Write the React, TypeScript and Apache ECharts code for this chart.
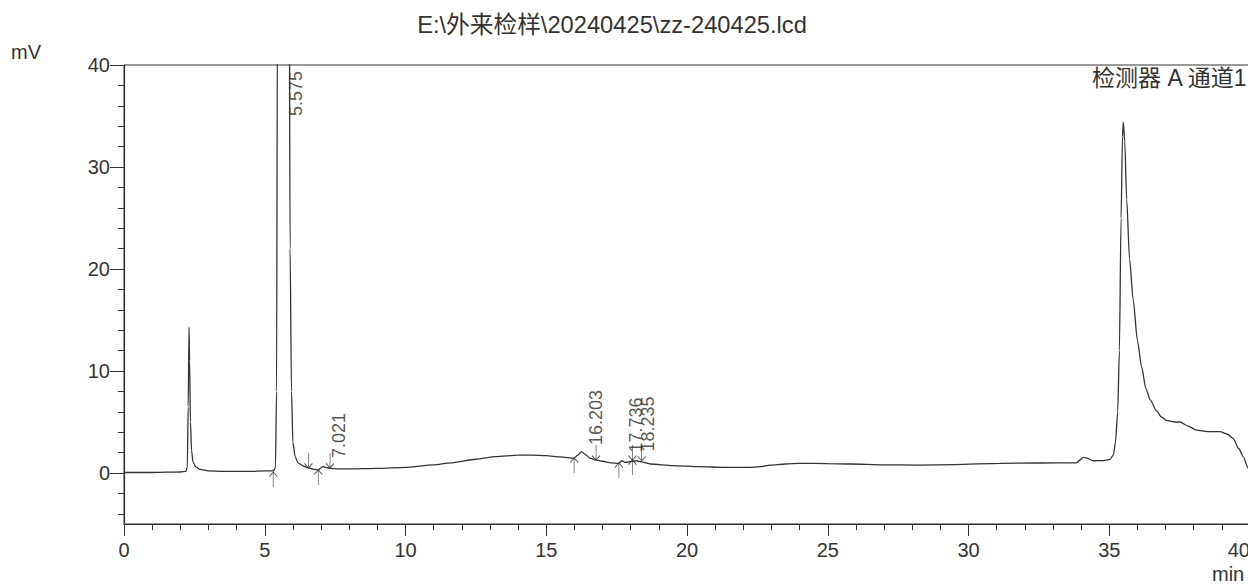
import React, { useEffect, useRef } from "react";
import * as echarts from "echarts";

// Chromatogram trace (time in min, signal in mV)
const times = [
  0.0, 0.5, 1.0, 1.5, 2.0, 2.2, 2.25, 2.28, 2.31, 2.33, 2.36, 2.4, 2.45, 2.55, 2.7, 3.0, 3.5, 4.0, 4.5, 5.0,
  5.3, 5.38, 5.42, 5.45, 5.5, 5.575, 5.7, 5.8, 5.87, 5.9, 5.95, 6.0, 6.08, 6.18, 6.35, 6.55, 6.75, 6.9, 7.0, 7.07,
  7.15, 7.32, 7.6, 8.0, 9.0, 10.0, 11.0, 11.6, 12.5, 13.2, 14.0, 14.5, 15.0, 15.5, 15.99, 16.1, 16.25, 16.4, 16.55, 16.77,
  17.0, 17.3, 17.58, 17.68, 17.8, 18.06, 18.2, 18.39, 18.7, 19.5, 20.46, 21.3, 22.2, 22.6, 22.95, 23.5, 24.0, 25.0, 25.8, 27.0,
  28.2, 29.5, 31.1, 32.5, 33.84, 33.95, 34.07, 34.2, 34.43, 34.8, 35.03, 35.15, 35.22, 35.3, 35.36, 35.42, 35.47, 35.5, 35.55, 35.62,
  35.72, 35.85, 36.0, 36.15, 36.3, 36.45, 36.68, 36.85, 37.04, 37.3, 37.51, 37.8, 38.1, 38.5, 38.93, 39.2, 39.4, 39.6, 39.76, 39.93,
  40.0,
];
const signal = [
  0.05, 0.05, 0.05, 0.08, 0.1, 0.15, 0.6, 6.5, 14.3, 11, 5, 2.2, 1.1, 0.6, 0.35, 0.2, 0.15, 0.15, 0.15, 0.2,
  0.2, 0.5, 8, 45, 150, 280, 220, 120, 50, 22, 8, 3.0, 1.6, 1.0, 0.7, 0.5, 0.35, 0.3, 0.5, 0.65,
  0.55, 0.45, 0.4, 0.4, 0.45, 0.55, 0.8, 1.0, 1.35, 1.6, 1.75, 1.76, 1.7, 1.58, 1.45, 1.7, 2.1, 1.8, 1.45, 1.27,
  1.15, 1.0, 0.95, 1.2, 1.05, 1.15, 1.2, 1.1, 0.88, 0.72, 0.62, 0.56, 0.55, 0.62, 0.78, 0.88, 0.95, 0.92, 0.88, 0.8,
  0.78, 0.82, 0.95, 0.98, 1.0, 1.25, 1.54, 1.45, 1.2, 1.22, 1.34, 1.8, 3, 6, 12, 25, 33, 34.4, 32.5, 26.8,
  21, 17, 13, 10.4, 8.3, 7.2, 6.1, 5.5, 5.15, 5.0, 5.0, 4.6, 4.2, 4.05, 4.05, 3.8, 3.4, 2.4, 1.6, 0.5,
  0.1,
];

// Peak integration marks
const startMarkTimes = [5.3, 6.9, 15.99, 17.58, 18.06];
const startMarkValues = [0.1, 0.3, 1.47, 0.98, 1.27];
const endMarkTimes = [6.55, 7.32, 16.77, 18.06, 18.39];
const endMarkValues = [0.5, 0.5, 1.27, 1.27, 1.2];

// Retention time labels (anchor = bottom of rotated text)
const rtLabels = ["5.575", "7.021", "16.203", "17.736", "18.235"];
const rtLabelTimes = [6.11, 7.64, 16.78, 18.19, 18.61];
const rtLabelValues = [35.0, 1.47, 2.75, 2.0, 2.1];

// Axes
const yLabelValues = [0, 10, 20, 30, 40];
const yMinorValues = [-4, -2, 2, 4, 6, 8, 12, 14, 16, 18, 22, 24, 26, 28, 32, 34, 36, 38];

const titleText = "E:\\外来检样\\20240425\\zz-240425.lcd";
const detectorText = "检测器 A 通道1";

const FONT = "'Liberation Sans', Arial, 'Noto Sans CJK SC', sans-serif";
const INK = "#333333";

export default function App() {
  const ref = useRef<HTMLDivElement>(null);
  useEffect(() => {
    if (!ref.current) return;
    const chart = echarts.init(ref.current, null, { renderer: "svg" });
    const trace = times.map((t, i) => [t, signal[i]]);
    const upArrows = startMarkTimes.map((t, i) => [t, startMarkValues[i]]);
    const downArrows = endMarkTimes.map((t, i) => [t, endMarkValues[i]]);
    const labels = rtLabels.map((s, i) => ({ value: [rtLabelTimes[i], rtLabelValues[i]], name: s }));

    chart.setOption({
      animation: false,
      textStyle: { fontFamily: FONT },
      grid: {
        left: 124,
        right: 10,
        top: 65,
        bottom: 62,
        show: true,
        borderColor: INK,
        borderWidth: 1,
        containLabel: false,
        outerBoundsMode: "none",
      },
      xAxis: {
        type: "value",
        min: 0,
        max: 40,
        interval: 5,
        axisLine: { show: true, onZero: false, lineStyle: { color: INK, width: 1.2 } },
        axisTick: { show: true, length: 12, lineStyle: { color: INK } },
        minorTick: { show: true, splitNumber: 5, length: 6, lineStyle: { color: INK } },
        axisLabel: { fontSize: 20, color: INK, margin: 16, fontFamily: FONT, alignMaxLabel: "right" },
        splitLine: { show: false },
        minorSplitLine: { show: false },
      },
      yAxis: [
        {
          type: "value",
          min: -5,
          max: 40,
          axisLine: { show: true, onZero: false, lineStyle: { color: INK, width: 1.2 } },
          axisTick: { show: true, length: 14, customValues: yLabelValues, lineStyle: { color: INK } },
          axisLabel: { fontSize: 20, color: INK, margin: 14, customValues: yLabelValues, fontFamily: FONT },
          splitLine: { show: false },
        },
        {
          type: "value",
          min: -5,
          max: 40,
          position: "left",
          offset: 0,
          axisLine: { show: false },
          axisTick: { show: true, length: 6, customValues: yMinorValues, lineStyle: { color: INK } },
          axisLabel: { show: false, customValues: yMinorValues },
          splitLine: { show: false },
        },
      ],
      series: [
        {
          type: "line",
          data: trace,
          showSymbol: false,
          symbol: "none",
          smooth: 0.25,
          smoothMonotone: "x",
          clip: true,
          lineStyle: { color: "#333333", width: 1.3 },
        },
        {
          type: "scatter",
          data: upArrows,
          symbol: "path://M5,0 L5,20 M1,6 L5,0 L9,6",
          symbolSize: [8, 15],
          symbolOffset: [0, 7.5],
          itemStyle: { color: "none", borderColor: INK, borderWidth: 1 },
          silent: true,
        },
        {
          type: "scatter",
          data: downArrows,
          symbol: "path://M5,20 L5,0 M1,14 L5,20 L9,14",
          symbolSize: [8, 15],
          symbolOffset: [0, -7.5],
          itemStyle: { color: "none", borderColor: INK, borderWidth: 1 },
          silent: true,
        },
        {
          type: "scatter",
          data: labels,
          symbolSize: 1,
          itemStyle: { color: "rgba(0,0,0,0)" },
          silent: true,
          label: {
            show: true,
            position: "inside",
            rotate: 90,
            align: "left",
            verticalAlign: "middle",
            formatter: (p: any) => p.name,
            fontSize: 18,
            color: "#2a2a2a",
            fontFamily: FONT,
          },
        },
      ],
      graphic: [
        {
          type: "text",
          x: 612,
          y: 25,
          style: {
            text: titleText,
            fontSize: 23.7,
            fill: INK,
            fontFamily: FONT,
            textAlign: "center",
            textVerticalAlign: "middle",
          },
        },
        {
          type: "text",
          x: 11,
          y: 52,
          style: { text: "mV", fontSize: 20, fill: INK, fontFamily: FONT, textVerticalAlign: "middle" },
        },
        {
          type: "text",
          x: 1212,
          y: 574,
          style: { text: "min", fontSize: 20, fill: INK, fontFamily: FONT, textVerticalAlign: "middle" },
        },
        {
          type: "text",
          x: 1092,
          y: 78,
          style: { text: detectorText, fontSize: 23, fill: INK, fontFamily: FONT, textVerticalAlign: "middle" },
        },
      ],
    });
    return () => chart.dispose();
  }, []);

  return (
    <div
      ref={ref}
      style={{ position: "fixed", left: 0, top: 0, width: 1260, height: 586, background: "#fff" }}
    />
  );
}
